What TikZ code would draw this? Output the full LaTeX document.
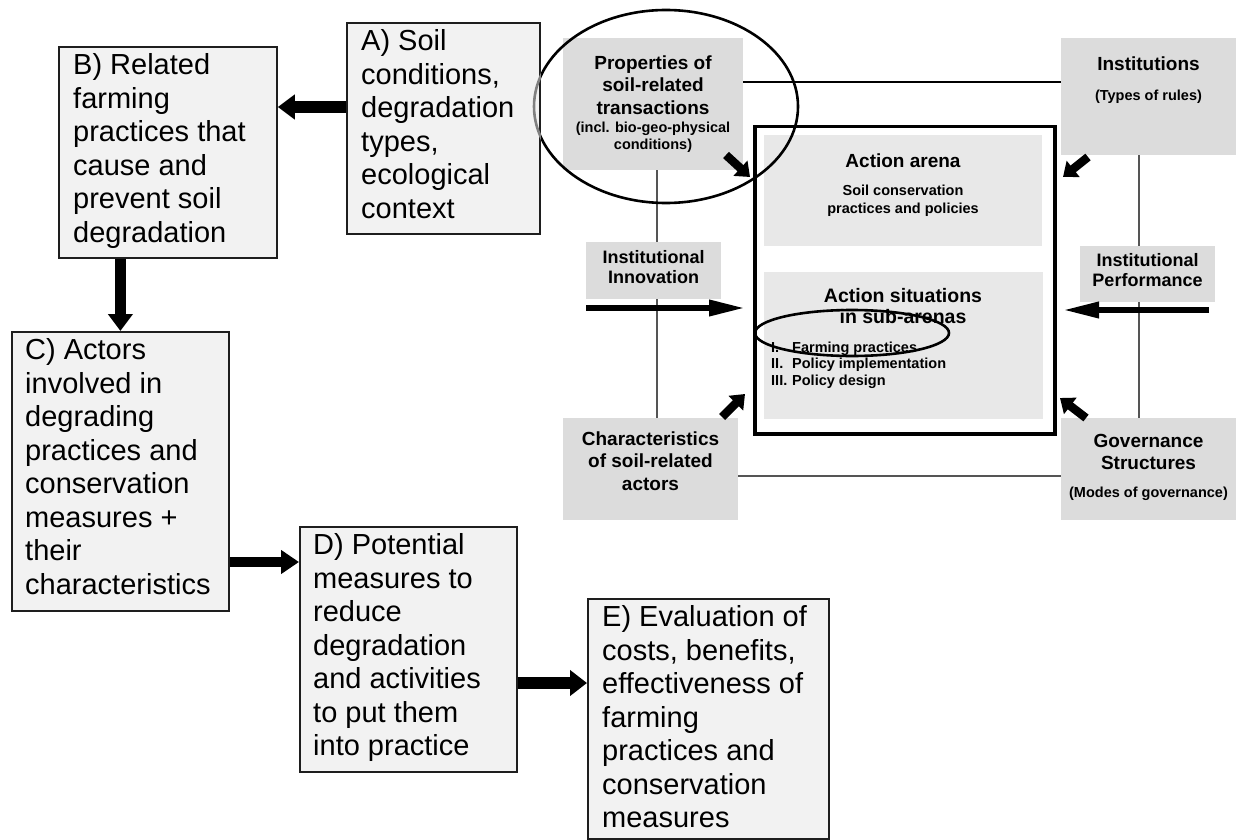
\documentclass[tikz,border=0pt]{standalone}
\usepackage{fontspec}
\setmainfont{Liberation Sans}
\usetikzlibrary{arrows.meta}
\definecolor{lfill}{HTML}{F2F2F2}
\definecolor{ofill}{HTML}{DCDCDC}
\definecolor{ifill}{HTML}{E8E8E8}
\definecolor{lborder}{HTML}{1E1E1E}
\definecolor{thinline}{HTML}{555555}
\begin{document}
\begin{tikzpicture}[x=1pt,y=-1pt,
  lbox/.style={draw=lborder, line width=1.8pt, fill=lfill, inner sep=0pt, anchor=north west},
  ltext/.style={inner sep=0pt, anchor=north west, align=left, font=\fontsize{29}{33.5}\selectfont},
  obox/.style={fill=ofill, inner sep=0pt, anchor=north west},
  ibox/.style={fill=ifill, inner sep=0pt, anchor=north west},
  btitle/.style={inner sep=0pt, anchor=north, align=center, font=\bfseries\fontsize{19}{22.5}\selectfont},
  bmid/.style={inner sep=0pt, anchor=north, align=center, font=\bfseries\fontsize{18}{20}\selectfont},
  bsmall/.style={inner sep=0pt, anchor=north, align=center, font=\bfseries\fontsize{14.5}{17}\selectfont},
  bigarrow/.style={line width=11pt, -{Triangle[length=17pt,width=24pt]}},
  longarrow/.style={line width=6.5pt, -{Triangle[length=37pt,width=15pt]}},
  diagarrow/.style={line width=8.5pt, -{Triangle[length=13pt,width=20pt]}},
  ring/.style={draw, line width=2.6pt},
  thin/.style={draw=thinline, line width=1.4pt},
]
\useasboundingbox (0,0) rectangle (1236,840);

% helper coordinates
\coordinate (tl) at (0,82);
\coordinate (bl) at (0,476);
\coordinate (vl) at (657,0);
\coordinate (vr) at (1139,0);
\coordinate (ab) at (0,107);
\coordinate (cd) at (0,562);
\coordinate (de) at (0,683);

% ---------- right framework: grey boxes ----------
\node[obox, minimum width=180pt, minimum height=132pt] (Prop) at (563,38) {};
\node[obox, minimum width=175pt, minimum height=117pt] (Inst) at (1061,38) {};
\node[obox, minimum width=175pt, minimum height=102pt] (Char) at (563,418) {};
\node[obox, minimum width=175pt, minimum height=102pt] (Gov) at (1061,418) {};

% connecting thin lines
\draw[black, line width=1.2pt] (Prop.east |- tl) -- (Inst.west |- tl);
\draw[thin] (Prop.south -| vl) -- (Char.north -| vl);
\draw[thin] (Inst.south -| vr) -- (Gov.north -| vr);
\draw[thin] (Char.east |- bl) -- (Gov.west |- bl);

\node[obox, minimum width=135pt, minimum height=57pt] (Innov) at (586,242) {};
\node[obox, minimum width=135pt, minimum height=56pt] (Perf) at (1080,246) {};

% big action box
\node[draw, line width=3.5pt, inner sep=0pt, anchor=north west, minimum width=300pt, minimum height=307pt] (Big) at (753,125) {};
\node[ibox, minimum width=278pt, minimum height=111pt] (Arena) at (764,135) {};
\node[ibox, minimum width=279pt, minimum height=147pt] (Sit) at (764,272) {};

% texts of the framework
\node[btitle] (PropT) at (653,53.3) {\strut Properties of\\soil-related\\transactions};
\node[bsmall] (PropS) at (653,120.1) {\strut (incl. bio-geo-physical\\conditions)};
\node[btitle] (InstT) at (1148.5,54.3) {\strut Institutions};
\node[bsmall] (InstS) at (1148.5,88.1) {\strut (Types of rules)};
\node[btitle] (CharT) at (650.5,429.3) {\strut Characteristics\\of soil-related\\actors};
\node[btitle] (GovT) at (1148.5,431.3) {\strut Governance\\Structures};
\node[bsmall] (GovS) at (1148.5,485.1) {\strut (Modes of governance)};
\node[bmid] (InnovT) at (653.5,249) {\strut Institutional\\Innovation};
\node[bmid] (PerfT) at (1147.5,252) {\strut Institutional\\Performance};
\node[inner sep=0pt, anchor=north, font=\bfseries\fontsize{19}{22}\selectfont] (ArenaT) at (903,151.6) {\strut Action arena};
\node[inner sep=0pt, anchor=north, align=center, font=\bfseries\fontsize{14.5}{18}\selectfont] (ArenaS) at (903,182.4) {\strut Soil conservation\\practices and policies};
\node[inner sep=0pt, anchor=north, align=center, font=\bfseries\fontsize{19.5}{21}\selectfont] (SitT) at (903,287.3) {\strut Action situations\\in sub-arenas};
\node[inner sep=0pt, anchor=north west, align=left, font=\bfseries\fontsize{14.5}{16.5}\selectfont] (SitL) at (771,340.4)
  {\strut\makebox[21pt][l]{I.}Farming practices\\\makebox[21pt][l]{II.}Policy implementation\\\makebox[21pt][l]{III.}Policy design};

% framework arrows
\coordinate (iitip) at (746,308);
\coordinate (iptip) at (1062,310);
\coordinate (iptail) at (1209,310);
\draw[longarrow] (Innov.west |- iitip) -- (iitip);
\draw[longarrow] (iptail) -- (iptip);

\coordinate (pa1) at (726,155);
\coordinate (pa2) at (750,177);
\coordinate (ia1) at (1088,157);
\coordinate (ia2) at (1063,177);
\coordinate (ga1) at (1086,418);
\coordinate (ga2) at (1060,398);
\coordinate (ca1) at (722,417);
\coordinate (ca2) at (745,394);
\draw[diagarrow] (pa1) -- (pa2);
\draw[diagarrow] (ia1) -- (ia2);
\draw[diagarrow] (ga1) -- (ga2);
\draw[diagarrow] (ca1) -- (ca2);

% big ellipse
\draw[ring] (666,106.5) ellipse [x radius=132pt, y radius=96.5pt];

% ---------- left chain of boxes ----------
\node[lbox, minimum width=193pt, minimum height=211pt] (A) at (346,22) {};
\node[lbox, minimum width=218pt, minimum height=211pt] (B) at (58,46) {};
\node[lbox, minimum width=217pt, minimum height=279pt] (C) at (11,331) {};
\node[lbox, minimum width=217pt, minimum height=245pt] (D) at (299,526) {};
\node[lbox, minimum width=241pt, minimum height=240pt] (E) at (587,598) {};

\begin{scope}
  \clip (A.north west) rectangle (A.south east);
  \draw[gray, line width=2.6pt] (666,106.5) ellipse [x radius=132pt, y radius=96.5pt];
\end{scope}

\node[ltext] (At) at (361,27) {\strut A) Soil\\conditions,\\degradation\\types,\\ecological\\context};
\node[ltext] (Bt) at (73,51) {\strut B) Related\\farming\\practices that\\cause and\\prevent soil\\degradation};
\node[ltext] (Ct) at (25,336) {\strut C) Actors\\involved in\\degrading\\practices and\\conservation\\measures +\\their\\characteristics};
\node[ltext] (Dt) at (313,531) {\strut D) Potential\\measures to\\reduce\\degradation\\and activities\\to put them\\into practice};
\node[ltext] (Et) at (602,603) {\strut E) Evaluation of\\costs, benefits,\\effectiveness of\\farming\\practices and\\conservation\\measures};

% chain arrows
\draw[bigarrow, line width=12pt] (A.west |- ab) -- (B.east |- ab);
\draw[bigarrow] (B.south -| C.north) -- (C.north);
\draw[bigarrow, line width=10.5pt, -{Triangle[length=18pt,width=23pt]}] (C.east |- cd) -- (D.west |- cd);
\draw[bigarrow, line width=12pt, -{Triangle[length=17pt,width=25pt]}] (D.east |- de) -- (E.west |- de);

% small ellipse
\draw[ring] (852,333) ellipse [x radius=97pt, y radius=23pt];
\end{tikzpicture}
\end{document}
